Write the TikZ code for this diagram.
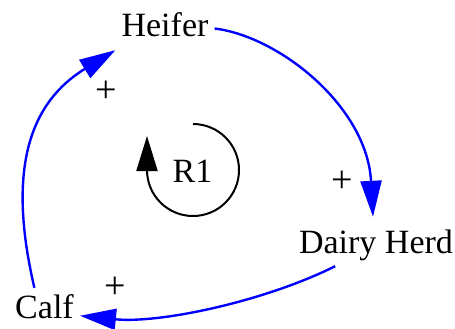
\documentclass[tikz,border=0pt]{standalone}
\usepackage{fontspec}
\setmainfont{Liberation Serif}
\usepackage{tikz}
\usetikzlibrary{arrows.meta}
\definecolor{linkblue}{RGB}{0,0,255}

\begin{document}
\begin{tikzpicture}[x=1pt,y=1pt,font=\fontsize{34}{40}\selectfont,
  var/.style={inner sep=6pt,text height=24pt,text depth=7pt,anchor=base},
  pol/.style={inner sep=0pt,anchor=base,font=\fontsize{38}{40}\selectfont},
  link/.style={linkblue,line width=2.4pt,-{Triangle[length=36pt,width=21pt]}},
  loopar/.style={black,line width=2pt,-{Triangle[length=35pt,width=21pt]}}]
\useasboundingbox (0,0) rectangle (455,-329);
% variables
\node[var] (heifer) at (165,-37) {Heifer};
\node[var] (herd) at (376,-253) {Dairy Herd};
\node[var] (calf) at (44.5,-318) {Calf};
% Heifer -> Dairy Herd
\draw[link] (heifer.east) .. controls +(65,-8) and +(-6,110) .. ([shift={(-3,6)}]herd.north);
\node[pol] (p1) at (342,-192) {+};
% Dairy Herd -> Calf
\draw[link] (herd.208) .. controls +(-70,-35) and +(80,-8) .. (calf.-10);
\node[pol] (p2) at (115,-298) {+};
% Calf -> Heifer
\draw[link] (calf.115) .. controls +(-28,120) and +(-85,-52) .. (heifer.south west);
\node[pol] (p3) at (106,-102) {+};
% loop R1
\node[inner sep=0pt,anchor=base] (r1) at (192.5,-182) {R1};
\draw[loopar] (193,-124) arc[start angle=90,end angle=-180,radius=46] -- ++(0,34);
\end{tikzpicture}
\end{document}
